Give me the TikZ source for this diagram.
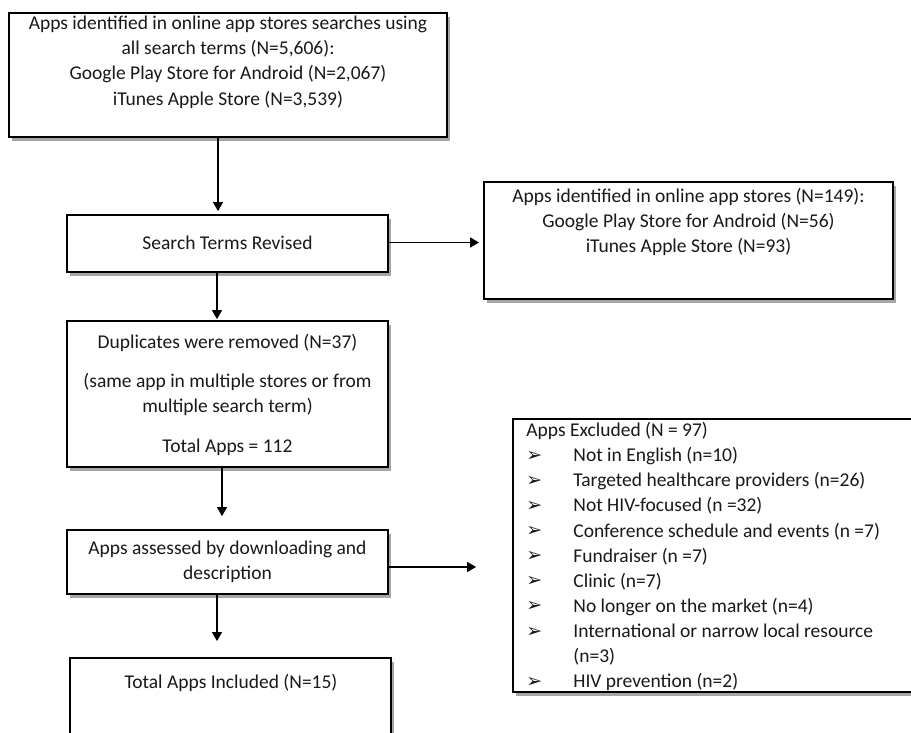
\documentclass[tikz,border=0pt]{standalone}
\usepackage{fontspec}
\setmainfont{Carlito}
\newfontfamily\dejavu{DejaVu Sans}
\usetikzlibrary{arrows.meta,shadows,calc}
\newcommand{\exbul}{\makebox[23.5pt][l]{\raisebox{0.2pt}{\dejavu\fontsize{9.5pt}{9pt}\selectfont ➢}}}
\begin{document}
\begin{tikzpicture}[x=0.5pt,y=-0.5pt,
  box/.style={draw=black, line width=0.9pt, fill=white, inner sep=0pt,
    drop shadow={shadow xshift=1.5pt, shadow yshift=-2pt, opacity=0.35, fill=black}},
  lbl/.style={align=center, inner sep=0pt, font=\fontsize{9.75pt}{12.65pt}\selectfont, text=black!90},
  lft/.style={align=left, inner sep=0pt, font=\fontsize{9.75pt}{12.55pt}\selectfont, text=black!90},
  arr/.style={-{Triangle[length=4.5pt,width=5pt]}, line width=0.65pt}]
\clip (0,0) rectangle (911,733);
\fill[white] (0,0) rectangle (911,733);

% boxes
\node[box, minimum width=219pt, minimum height=62pt] (A) at (228,75) {};
\node[box, minimum width=160.5pt, minimum height=28.5pt] (B) at (227.5,243.5) {};
\node[box, minimum width=204.5pt, minimum height=58.5pt] (C) at (688.5,240.5) {};
\node[box, minimum width=160.5pt, minimum height=73pt] (D) at (227.5,394) {};
\node[box, minimum width=160.5pt, minimum height=32pt] (E) at (227.5,562) {};
\node[box, minimum width=160.5pt, minimum height=60pt] (F) at (230.5,718) {};
\node[box, minimum width=223.5pt, minimum height=136.5pt] (G) at (736.5,555.5) {};

% texts
\node[lbl] (At) at (228,62) {Apps identified in online app stores searches using\\ all search terms (N=5,606):\\ Google Play Store for Android (N=2,067)\\ iTunes Apple Store (N=3,539)};
\node[lbl] (Bt) at (227.5,243) {Search Terms Revised};
\node[lbl] (Ct) at (688.5,222) {Apps identified in online app stores (N=149):\\ Google Play Store for Android (N=56)\\ iTunes Apple Store (N=93)};
\node[lbl] (Dt) at (227.5,394.5) {Duplicates were removed (N=37)\\[7pt] (same app in multiple stores or from\\ multiple search term)\\[7pt] Total Apps = 112};
\node[lbl] (Et) at (227.5,562) {Apps assessed by downloading and\\ description};
\node[lbl] (Ft) at (231,683) {Total Apps Included (N=15)};
\node[lft, anchor=north west] (Gt) at (526,422) {Apps Excluded (N = 97)\\
\exbul Not in English (n=10)\\
\exbul Targeted healthcare providers (n=26)\\
\exbul Not HIV-focused (n =32)\\
\exbul Conference schedule and events (n =7)\\
\exbul Fundraiser (n =7)\\
\exbul Clinic (n=7)\\
\exbul No longer on the market (n=4)\\
\exbul International or narrow local resource\\
\hspace*{23.5pt}(n=3)\\
\exbul HIV prevention (n=2)};

% connectors
\draw[arr] ($(A.south)+(-10,0)$) -- ($(A.south |- B.north)+(-10,-3)$);
\draw[arr] ($(B.east)+(0,-1)$) -- ($(C.west |- B.east)+(-4,-1)$);
\draw[arr] ($(B.south)+(-10.5,0)$) -- ($(B.south |- D.north)+(-10.5,-1)$);
\draw[arr] ($(D.south)+(-5.5,0)$) -- ($(D.south |- E.north)+(-5.5,-13)$);
\draw[arr] ($(E.east)+(0,5)$) -- ($(G.west |- E.east)+(-36,5)$);
\draw[arr] ($(E.south)+(-10.5,0)$) -- ($(E.south |- F.north)+(-10.5,-16)$);
\end{tikzpicture}
\end{document}
